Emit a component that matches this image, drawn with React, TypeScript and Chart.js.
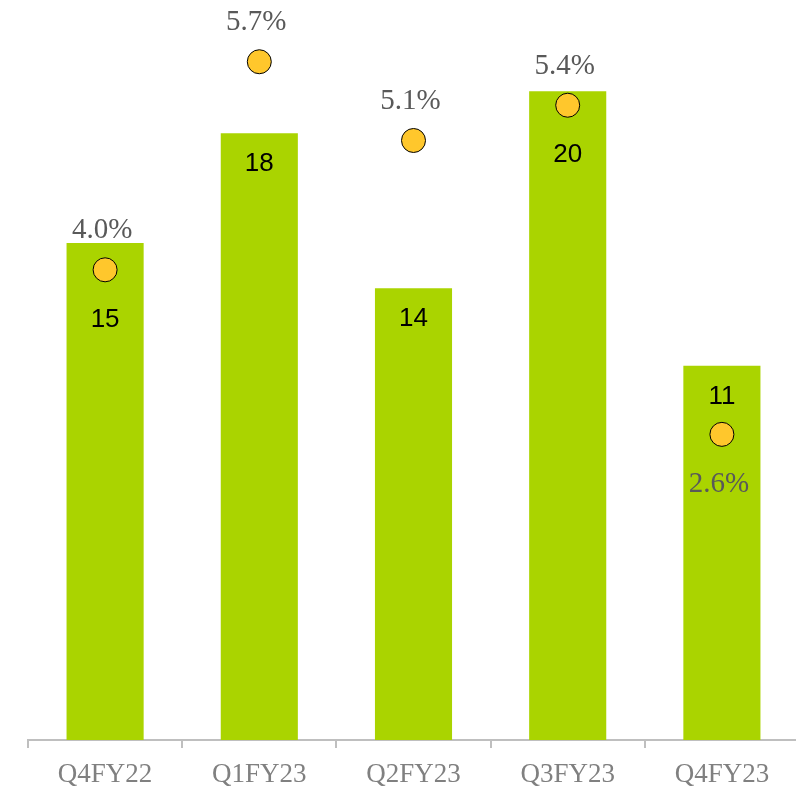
import React, { useEffect, useRef } from "react";
import { Chart, registerables } from "chart.js";

Chart.register(...registerables);

const categories = ["Q4FY22", "Q1FY23", "Q2FY23", "Q3FY23", "Q4FY23"];
const barValues = [15.4, 18.8, 14.0, 20.1, 11.6];
const pctValues = [4.0, 5.77, 5.1, 5.4, 2.6];

const BAR_COLOR = "#AAD400";
const POINT_COLOR = "#FFC72C";

const labelPlugin = {
  id: "customLabels",
  afterDatasetsDraw(chart: any) {
    const ctx = chart.ctx;
    const barMeta = chart.getDatasetMeta(1);
    const ptMeta = chart.getDatasetMeta(0);
    const barLabelY: number[] = [];
    ctx.save();
    ctx.textAlign = "center";
    ctx.textBaseline = "middle";
    ctx.font = "26px 'Liberation Sans', Arial, sans-serif";
    ctx.fillStyle = "#000000";
    barMeta.data.forEach((bar: any, i: number) => {
      const pt = ptMeta.data[i];
      let y = bar.y + 31;
      const d = pt.y - bar.y;
      if (d > -5 && d < 45) y = pt.y + 50;
      barLabelY[i] = y;
      ctx.fillText(String(Math.floor(barValues[i])), bar.x, y);
    });
    ctx.font = "29px 'Liberation Serif', 'Times New Roman', serif";
    ctx.fillStyle = "#595959";
    ptMeta.data.forEach((pt: any, i: number) => {
      let y = pt.y - 39;
      if (Math.abs(y - barLabelY[i]) < 30) y = pt.y + 50;
      const txt = (Math.floor(pctValues[i] * 10 + 1e-9) / 10).toFixed(1) + "%";
      ctx.fillText(txt, pt.x - 3, y);
    });
    ctx.restore();
  },
};

export default function App() {
  const ref = useRef<HTMLCanvasElement>(null);
  useEffect(() => {
    document.body.style.margin = "0";
    const chart = new Chart(ref.current!, {
      type: "bar",
      data: {
        labels: categories,
        datasets: [
          {
            type: "line",
            data: pctValues,
            yAxisID: "y1",
            showLine: false,
            pointRadius: 12,
            pointBackgroundColor: POINT_COLOR,
            pointBorderColor: "#000000",
            pointBorderWidth: 1,
            order: 0,
          } as any,
          {
            type: "bar",
            data: barValues,
            yAxisID: "y",
            backgroundColor: BAR_COLOR,
            barPercentage: 0.5,
            categoryPercentage: 1,
            order: 1,
          },
        ],
      },
      options: {
        responsive: false,
        animation: false,
        devicePixelRatio: 1,
        layout: { padding: { top: 30, left: 28, right: 0, bottom: 0 } },
        plugins: { legend: { display: false }, tooltip: { enabled: false } },
        scales: {
          x: {
            grid: {
              drawOnChartArea: false,
              drawTicks: true,
              tickLength: 8,
              color: "#BFBFBF",
              lineWidth: 2,
            },
            border: { display: true, color: "#BFBFBF", width: 2 },
            ticks: {
              color: "#808080",
              padding: 11,
              font: { family: "'Liberation Serif', 'Times New Roman', serif", size: 27 },
            },
            afterFit(scale: any) {
              scale.height = 51;
            },
          },
          y: { display: false, min: 0, max: 22 },
          y1: { display: false, min: 0, max: 6.04 },
        },
      },
      plugins: [labelPlugin],
    });
    return () => chart.destroy();
  }, []);
  return (
    <div style={{ position: "fixed", left: 0, top: 0, width: 796, height: 791, overflow: "hidden", background: "#fff" }}>
      <canvas ref={ref} width={812} height={791} style={{ width: 812, height: 791 }} />
    </div>
  );
}
